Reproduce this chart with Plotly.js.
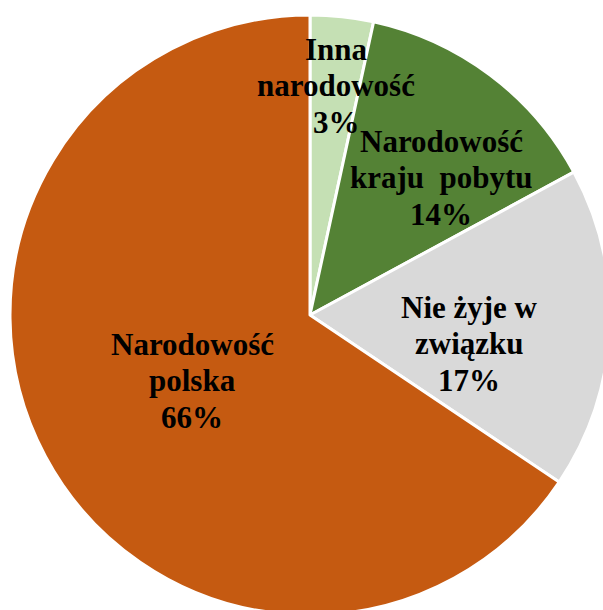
<!DOCTYPE html>
<html>
<head>
<meta charset="utf-8">
<script src="https://cdn.plot.ly/plotly-3.0.1.min.js"></script>
<style>
html, body { margin: 0; padding: 0; width: 603px; height: 610px; overflow: hidden; background: #fff; }
#chart { position: absolute; left: 10px; top: 15px; width: 600px; height: 600px; }
</style>
</head>
<body>
<div id="chart"></div>
<script>
// Data (slice sizes; labels show the rounded percentages)
const categories = ["Inna narodowość", "Narodowość kraju  pobytu", "Nie żyje w związku", "Narodowość polska"];
const categoryLines = [["Inna", "narodowość"], ["Narodowość", "kraju  pobytu"], ["Nie żyje w", "związku"], ["Narodowość", "polska"]];
const values = [3.4, 13.7, 17.3, 65.6];
const percentLabels = ["3%", "14%", "17%", "66%"];
const colors = ["#c5e0b4", "#548235", "#d9d9d9", "#c55a11"];

// Label placement: page-pixel centre x and first baseline y for each label block
const OFFX = 10, OFFY = 15, W = 600, H = 600;
const labelX = [336, 441, 469, 192];
const labelBase = [60, 152, 318, 355];
const lineStep = 36.5;
const fontSize = 31;

const annotations = [];
categoryLines.forEach((lines, i) => {
  const all = lines.concat([percentLabels[i]]);
  all.forEach((t, j) => {
    const base = labelBase[i] + j * lineStep;
    const cy = base - 0.34 * fontSize;
    annotations.push({
      text: "<b>" + t + "</b>",
      x: (labelX[i] - OFFX) / W,
      y: 1 - (cy - OFFY) / H,
      xref: "paper", yref: "paper",
      xanchor: "center", yanchor: "middle",
      showarrow: false,
      font: { family: "Liberation Serif, Times New Roman, serif", size: fontSize, color: "#000" }
    });
  });
});

Plotly.newPlot("chart", [{
  type: "pie",
  labels: categories,
  values: values,
  sort: false,
  direction: "clockwise",
  rotation: 0,
  marker: { colors: colors, line: { color: "#ffffff", width: 3 } },
  textinfo: "none",
  hoverinfo: "none",
  domain: { x: [0, 1], y: [0, 1] }
}], {
  width: W, height: H,
  margin: { l: 0, r: 0, t: 0, b: 0 },
  showlegend: false,
  paper_bgcolor: "rgba(0,0,0,0)",
  annotations: annotations,
  font: { family: "Liberation Serif, serif" }
}, { displayModeBar: false, staticPlot: true });
</script>
</body>
</html>
